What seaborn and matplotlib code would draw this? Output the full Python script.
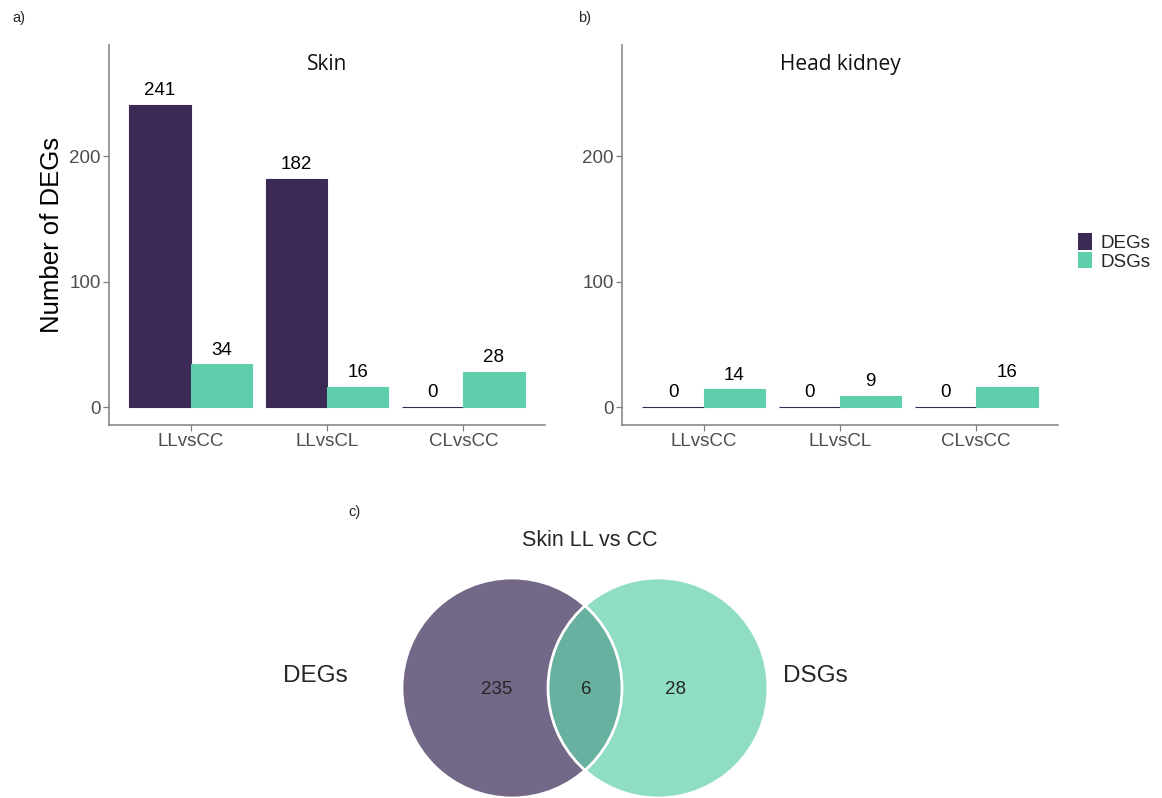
import matplotlib
matplotlib.use("Agg")
import matplotlib.pyplot as plt
from matplotlib.patches import Circle, Patch
import pandas as pd
import seaborn as sns

# Differentially expressed (DEGs) and differentially spliced (DSGs) gene counts
comparisons = ["LLvsCC", "LLvsCL", "CLvsCC"]
gene_sets = ["DEGs", "DSGs"]
skin_degs = [241, 182, 0]
skin_dsgs = [34, 16, 28]
kidney_degs = [0, 0, 0]
kidney_dsgs = [14, 9, 16]

# Overlap of DEGs and DSGs in skin, LL vs CC
venn_only_degs = 235
venn_shared = 6
venn_only_dsgs = 28

palette = {"DEGs": "#3b2a55", "DSGs": "#5fcead"}
venn_fill = {"DEGs": "#736887", "DSGs": "#90ddc5", "both": "#68b0a0"}


def long_table(degs, dsgs):
    rows = []
    for comp, d, s in zip(comparisons, degs, dsgs):
        rows.append({"comparison": comp, "set": "DEGs", "count": d})
        rows.append({"comparison": comp, "set": "DSGs", "count": s})
    return pd.DataFrame(rows)


sns.set_theme(style="white")
plt.rcParams["font.family"] = ["Liberation Sans", "DejaVu Sans"]

W, H = 1162, 798
fig = plt.figure(figsize=(W / 100, H / 100), dpi=100)


def px_axes(x0, y0, x1, y1):
    return fig.add_axes([x0 / W, 1 - y1 / H, (x1 - x0) / W, (y1 - y0) / H])


def bar_panel(ax, df, title):
    sns.barplot(data=df, x="comparison", y="count", hue="set", order=comparisons,
                hue_order=gene_sets, palette=palette, width=0.9, saturation=1,
                edgecolor=None, linewidth=0, legend=False, ax=ax)
    for cont, hue in zip(ax.containers, gene_sets):
        for bar in cont:
            bar.set_edgecolor(palette[hue])
            bar.set_linewidth(0.8)
        ax.bar_label(cont, fmt="%d", padding=4, fontsize=13.5, color="black")
    ax.set_xlim(-0.6, 2.6)
    ax.set_ylim(-14.3, 288.5)
    ax.set_yticks([0, 100, 200])
    ax.set_xlabel("")
    ax.set_ylabel("")
    for side in ("top", "right"):
        ax.spines[side].set_visible(False)
    for side in ("left", "bottom"):
        ax.spines[side].set_color("#7f7f7f")
        ax.spines[side].set_linewidth(1.1)
    ax.tick_params(axis="both", which="major", length=4, width=0.9, color="#7f7f7f",
                   labelsize=13.5, labelcolor="#4d4d4d", bottom=True, left=True, pad=2)
    ax.text(0.5, 0.95, title, transform=ax.transAxes, ha="center", va="center",
            fontsize=15, family=["Open Sans", "DejaVu Sans"], color="#111111")


ax_a = px_axes(109, 45, 545, 425)
bar_panel(ax_a, long_table(skin_degs, skin_dsgs), "Skin")
ax_a.set_ylabel("Number of DEGs", fontsize=18.5, labelpad=4, color="black")

ax_b = px_axes(622, 45, 1058, 425)
bar_panel(ax_b, long_table(kidney_degs, kidney_dsgs), "Head kidney")

# Legend
handles = [Patch(facecolor=palette[s], edgecolor="none", label=s) for s in gene_sets]
fig.legend(handles=handles, loc="center left", bbox_to_anchor=(1070 / W, 1 - 252 / H),
           frameon=False, fontsize=13.5, handlelength=0.75, handleheight=0.95,
           handletextpad=0.45, labelspacing=0.0, borderaxespad=0)

# Panel letters
fig.text(12 / W, 1 - 18 / H, "a)", fontsize=10.5, ha="left", va="center")
fig.text(578 / W, 1 - 18 / H, "b)", fontsize=10.5, ha="left", va="center")
fig.text(348 / W, 1 - 512 / H, "c)", fontsize=10.5, ha="left", va="center")

# Venn diagram drawn in pixel units
ax_c = px_axes(0, 488, W, H)
ax_c.set_xlim(0, W)
ax_c.set_ylim(H, 488)
ax_c.set_aspect("equal")
ax_c.axis("off")
r = 110
cl, cr, cy = (512, 688), (658, 688), 688
ax_c.add_patch(Circle(cl, r, facecolor=venn_fill["DEGs"], edgecolor="none", zorder=1))
ax_c.add_patch(Circle(cr, r, facecolor=venn_fill["DSGs"], edgecolor="none", zorder=1))
lens = Circle(cr, r, facecolor=venn_fill["both"], edgecolor="none", zorder=2)
ax_c.add_patch(lens)
clip = Circle(cl, r, transform=ax_c.transData, facecolor="none", edgecolor="none")
ax_c.add_patch(clip)
lens.set_clip_path(clip)
ax_c.add_patch(Circle(cl, r, facecolor="none", edgecolor="white", lw=2, zorder=3))
ax_c.add_patch(Circle(cr, r, facecolor="none", edgecolor="white", lw=2, zorder=3))
ax_c.text(497, cy + 1, str(venn_only_degs), ha="center", va="center", fontsize=13.5, zorder=4)
ax_c.text(586, cy + 1, str(venn_shared), ha="center", va="center", fontsize=13.5, zorder=4)
ax_c.text(675, cy + 1, str(venn_only_dsgs), ha="center", va="center", fontsize=13.5, zorder=4)
ax_c.text(315, cy - 12, "DEGs", ha="center", va="center", fontsize=17.5)
ax_c.text(815, cy - 12, "DSGs", ha="center", va="center", fontsize=17.5)
ax_c.text(590, 540, "Skin LL vs CC", ha="center", va="center", fontsize=15.5)

fig.savefig("out.png", dpi=100)
